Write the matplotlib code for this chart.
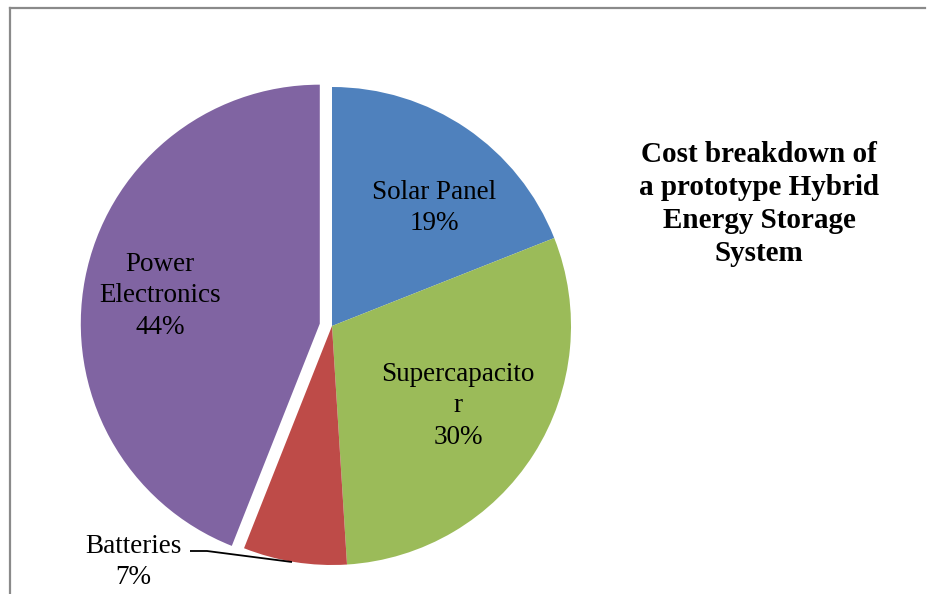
import matplotlib
matplotlib.use("Agg")
import matplotlib.pyplot as plt
from matplotlib.lines import Line2D

categories = ["Solar Panel", "Supercapacitor", "Batteries", "Power Electronics"]
values = [19, 30, 7, 44]
label_texts = ["Solar Panel\n19%", "Supercapacito\nr\n30%", "Batteries\n7%", "Power\nElectronics\n44%"]
colors = ["#4F81BD", "#9BBB59", "#BE4B48", "#8064A2"]
title = "Cost breakdown of\na prototype Hybrid\nEnergy Storage\nSystem"

W, H = 930, 594
fig = plt.figure(figsize=(W / 100, H / 100), dpi=100)
ax = fig.add_axes([0, 0, 1, 1])

cx, cy, r = 332, H - 326, 239
explode = [0, 0, 0, 0.052 * r]  # offset in data units (pixels)
wedges, _ = ax.pie(values, colors=colors, startangle=90, counterclock=False,
                   explode=explode, center=(cx, cy), radius=r, frame=True,
                   wedgeprops=dict(linewidth=0))
ax.set_xlim(0, W)
ax.set_ylim(0, H)
ax.set_aspect("equal")
ax.axis("off")

lab_font = dict(family="Liberation Serif", fontsize=19.5, color="black",
                ha="center", va="center", linespacing=1.35)
pos = [(434, H - 208), (458, H - 406), (133, H - 562), (160, H - 296)]
for t, (x, y) in zip(label_texts, pos):
    ax.text(x, y, t, **lab_font)

# leader line for Batteries
ax.plot([190, 207, 292], [H - 551, H - 551, H - 562], color="black", lw=1.3,
        solid_capstyle="butt")

ax.text(759, H - 204, title, family="Liberation Serif", fontweight="bold",
        fontsize=21, ha="center", va="center", linespacing=1.30)

# chart frame
fig.add_artist(Line2D([9.5 / W, 9.5 / W], [0, 1 - 8 / H], transform=fig.transFigure,
                      color="#8a8a8a", lw=1.6))
fig.add_artist(Line2D([9.5 / W, 925 / W], [1 - 8 / H, 1 - 8 / H], transform=fig.transFigure,
                      color="#8a8a8a", lw=1.6))

fig.savefig("out.png", dpi=100)
